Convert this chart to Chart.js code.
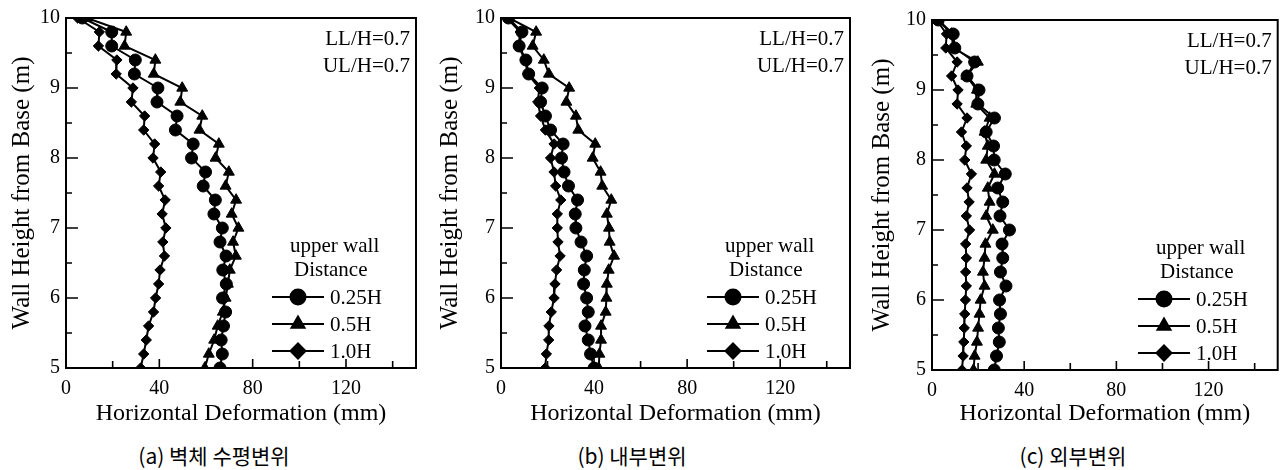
<!DOCTYPE html>
<html>
<head>
<meta charset="utf-8">
<script src="https://cdn.jsdelivr.net/npm/chart.js@4.4.1/dist/chart.umd.min.js"></script>
<style>
  body { margin: 0; background: #fff; }
  #wrap { position: relative; width: 1285px; height: 470px; overflow: hidden; }
  .panel { position: absolute; top: 0; }
  .caption {
    position: absolute; top: 440px; transform: translateX(-50%);
    font-family: "Noto Sans CJK KR", sans-serif; font-size: 21px; color: #000; white-space: nowrap;
  }
</style>
</head>
<body>
<div id="wrap">
  <canvas class="panel" id="chartA" width="425" height="430" style="left:0px"></canvas>
  <canvas class="panel" id="chartB" width="430" height="430" style="left:428px"></canvas>
  <canvas class="panel" id="chartC" width="425" height="430" style="left:860px"></canvas>
  <div class="caption" style="left:214px">(a) 벽체 수평변위</div>
  <div class="caption" style="left:632px">(b) 내부변위</div>
  <div class="caption" style="left:1073px">(c) 외부변위</div>
</div>
<script>
// wall height of each reading (m)
const heights = [10, 9.8, 9.6, 9.4, 9.2, 9.0, 8.8, 8.6, 8.4, 8.2, 8.0, 7.8, 7.6,
  7.4, 7.2, 7.0, 6.8, 6.6, 6.4, 6.2, 6.0, 5.8, 5.6, 5.4, 5.2, 5.0];

const seriesLabels = ["0.25H", "0.5H", "1.0H"];

// (a) wall horizontal deformation (mm)
const wallD025 = [7, 19.6, 19.6, 29.7, 29.3, 39.4, 39, 47.6, 46.9, 54.5, 53.8, 59.8, 58.8,
  64, 63.4, 67, 66, 68.6, 67.2, 68.7, 67.1, 68.4, 67.5, 66.5, 67, 66];
const wallD05 = [9, 25.8, 25.1, 38.3, 37.6, 49.8, 49, 58.4, 57.2, 65.5, 64.1, 69.8, 68.4,
  72.9, 71, 73.9, 71.6, 72.8, 70.2, 69.4, 68.4, 67.2, 65, 63.5, 61.2, 59.5];
const wallD10 = [5, 14.3, 13.9, 21.8, 21.5, 28.7, 28, 33.7, 33.3, 38, 37.3, 40.6, 39.7,
  42.5, 41.2, 42.8, 41.5, 42.2, 40.3, 39.7, 38.4, 37.5, 35.4, 34.4, 33.3, 32];

// (b) inner deformation
const innerD025 = [3.2, 9, 7.8, 10.7, 11.9, 17.7, 17, 19.1, 21.3, 26.7, 26, 27.1, 29,
  32.9, 31.9, 32.2, 34.4, 36.8, 35.8, 35.5, 36.8, 37.5, 36.1, 37.5, 38.5, 40];
const innerD05 = [3.5, 15.1, 13.6, 18.4, 20.6, 29.3, 28.1, 32.2, 33.2, 40.5, 39.4, 42.8, 43.5,
  47.4, 45.5, 46.4, 46.7, 48.6, 46.3, 45.5, 45.3, 45, 43, 43, 42.3, 42];
const innerD10 = [2.5, 8.3, 7.5, 10.4, 11.5, 16.5, 15.8, 17, 19.1, 22.8, 21.3, 22.8, 23.5,
  25.7, 24.2, 24.2, 24.5, 25.4, 23.9, 23.2, 22.8, 21.6, 20.6, 20.5, 19.5, 19];

// (c) outer deformation
const outerD025 = [2.7, 9.2, 9.9, 18.5, 15.2, 20.4, 19.9, 27.1, 23.5, 26.7, 27, 31.8, 28.5,
  30.7, 29.5, 33.6, 30.4, 30.7, 29.7, 32.1, 29.3, 29.7, 28.8, 29.2, 28, 27];
const outerD05 = [2.7, 8.5, 9.2, 19.9, 14.9, 19.5, 19.2, 25, 22.8, 24.2, 23.5, 27.1, 24.2,
  25, 23.5, 26.4, 23.2, 22.8, 22.1, 22.8, 21.1, 20.6, 20, 19.5, 18.5, 18];
const outerD10 = [2, 6.3, 6, 10.9, 8.5, 11.3, 10.9, 15.2, 12.8, 14.9, 14.2, 17.1, 15.2,
  16.1, 14.9, 16.3, 14.6, 14.9, 14.6, 14.9, 14.5, 14.2, 14, 13.8, 13.5, 13];

// axes
const xLabelTicks = [0, 40, 80, 120];
const xMarks = [0, 20, 40, 60, 80, 100, 120, 140];
const yLabelTicks = [5, 6, 7, 8, 9, 10];
const yMarks = [5, 5.5, 6, 6.5, 7, 7.5, 8, 8.5, 9, 9.5, 10];
const noteLines = ["LL/H=0.7", "UL/H=0.7"];
const legendHead = ["upper wall", "Distance"];

const SERIF = "'Liberation Serif', 'Times New Roman', serif";
const pointStyles = ["circle", "triangle", "rectRot"];
const pointSizes = [6, 6.3, 5.2];

function toPoints(vals) {
  return heights.map((h, i) => ({ x: vals[i], y: h }));
}

const framePlugin = {
  id: "frame",
  afterDraw(chart) {
    const { ctx, chartArea: a, scales } = chart;
    ctx.save();
    ctx.strokeStyle = "#000";
    ctx.lineWidth = 2;
    ctx.strokeRect(a.left, a.top, a.right - a.left, a.bottom - a.top);

    // inward tick marks
    ctx.lineWidth = 1.6;
    ctx.beginPath();
    xMarks.forEach((v) => {
      const px = scales.x.getPixelForValue(v);
      const len = xLabelTicks.includes(v) ? 9 : 7;
      ctx.moveTo(px, a.bottom);
      ctx.lineTo(px, a.bottom - len);
    });
    yMarks.forEach((v) => {
      const py = scales.y.getPixelForValue(v);
      const len = yLabelTicks.includes(v) ? 12 : 6;
      ctx.moveTo(a.left, py);
      ctx.lineTo(a.left + len, py);
    });
    ctx.stroke();

    ctx.fillStyle = "#000";
    ctx.font = "21px " + SERIF;
    ctx.textBaseline = "middle";

    // LL/H, UL/H note
    ctx.textAlign = "right";
    ctx.fillText(noteLines[0], a.right - 6, a.top + 21);
    ctx.fillText(noteLines[1], a.right - 6, a.top + 48);

    // legend
    ctx.textAlign = "left";
    ctx.fillText(legendHead[0], a.left + 224, a.bottom - 122);
    ctx.fillText(legendHead[1], a.left + 228, a.bottom - 98);
    const rows = [a.bottom - 71, a.bottom - 44, a.bottom - 17];
    chart.data.datasets.forEach((ds, i) => {
      const ry = rows[i];
      ctx.lineWidth = 2;
      ctx.beginPath();
      ctx.moveTo(a.left + 206, ry);
      ctx.lineTo(a.left + 258, ry);
      ctx.stroke();
      Chart.helpers.drawPoint(ctx, { pointStyle: ds.pointStyle, radius: 7.5, borderWidth: 1 }, a.left + 232, ry);
      ctx.fill();
      ctx.fillText(ds.label, a.left + 264, ry + 1);
    });
    ctx.restore();
  },
};

function makePanel(id, series, box) {
  const ctx = document.getElementById(id).getContext("2d");
  new Chart(ctx, {
    type: "scatter",
    data: {
      datasets: series.map((vals, i) => ({
        label: seriesLabels[i],
        data: toPoints(vals),
        showLine: true,
        borderColor: "#000",
        backgroundColor: "#000",
        borderWidth: 2,
        pointStyle: pointStyles[i],
        pointRadius: pointSizes[i],
        pointBackgroundColor: "#000",
        pointBorderColor: "#000",
        pointBorderWidth: 1,
      })),
    },
    options: {
      responsive: false,
      animation: false,
      layout: { padding: { top: box.top, right: box.right, left: 0, bottom: 0 } },
      plugins: { legend: { display: false }, tooltip: { enabled: false } },
      scales: {
        x: {
          type: "linear",
          min: 0,
          max: 150,
          grid: { display: false, drawTicks: false },
          border: { display: false },
          afterBuildTicks: (s) => { s.ticks = xLabelTicks.map((v) => ({ value: v })); },
          afterFit: (s) => { s.height = box.xHeight; },
          ticks: {
            color: "#000",
            padding: 9,
            maxRotation: 0,
            autoSkip: false,
            font: { family: SERIF, size: 20 },
          },
          title: {
            display: true,
            text: "Horizontal Deformation (mm)",
            color: "#000",
            font: { family: SERIF, size: 24 },
            padding: { top: 0, bottom: 2 },
          },
        },
        y: {
          type: "linear",
          min: 5,
          max: 10,
          grid: { display: false, drawTicks: false },
          border: { display: false },
          afterBuildTicks: (s) => { s.ticks = yLabelTicks.map((v) => ({ value: v })); },
          afterFit: (s) => { s.width = box.yWidth; },
          ticks: {
            color: "#000",
            padding: 6,
            font: { family: SERIF, size: 20 },
          },
          title: {
            display: true,
            text: "Wall Height from Base (m)",
            color: "#000",
            font: { family: SERIF, size: 25 },
            padding: { top: 7, bottom: 0 },
          },
        },
      },
    },
    plugins: [framePlugin],
  });
}

makePanel("chartA", [wallD025, wallD05, wallD10], { top: 16, right: 9, yWidth: 66, xHeight: 62 });
makePanel("chartB", [innerD025, innerD05, innerD10], { top: 18, right: 8, yWidth: 73, xHeight: 62 });
makePanel("chartC", [outerD025, outerD05, outerD10], { top: 20, right: 4, yWidth: 72, xHeight: 60 });
</script>
</body>
</html>
